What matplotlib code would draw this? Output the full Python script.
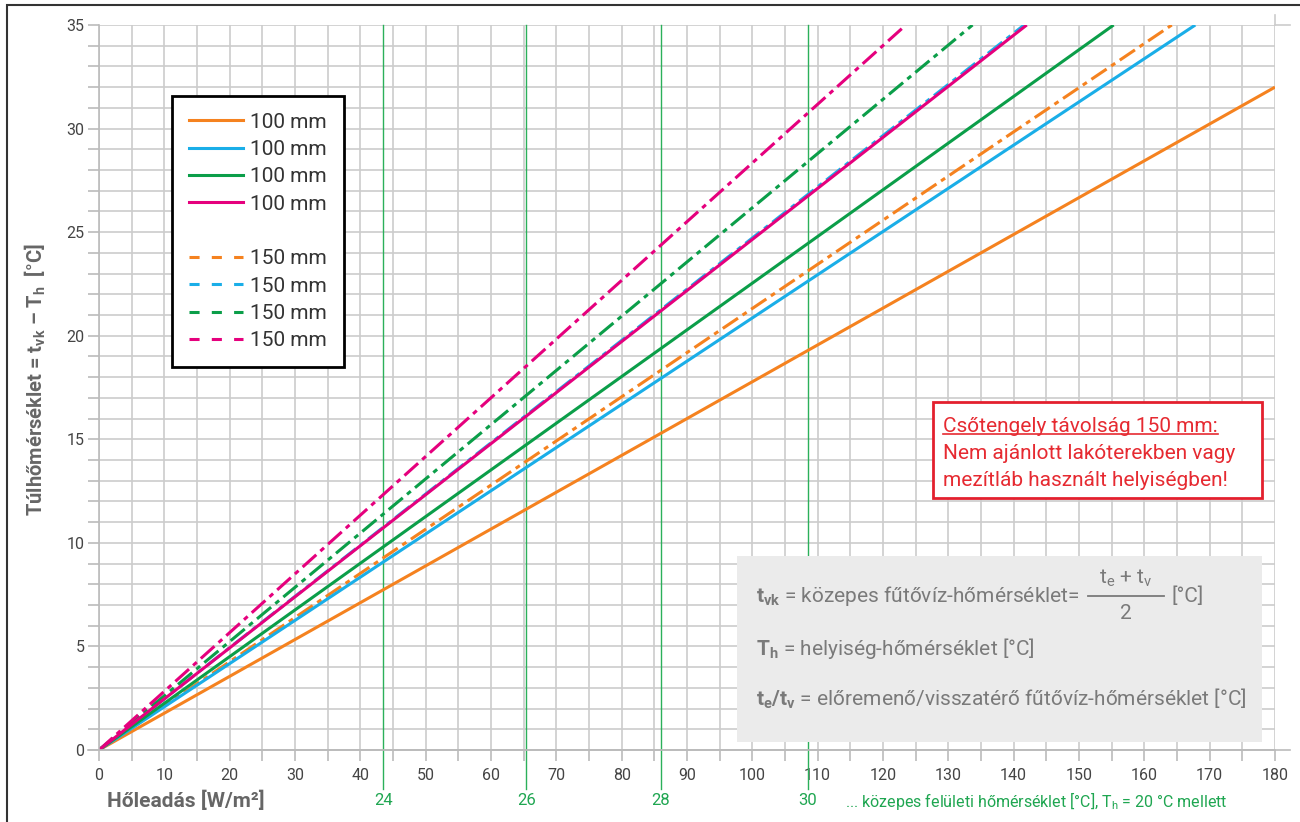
import matplotlib
matplotlib.use("Agg")
import matplotlib.pyplot as plt
from matplotlib.lines import Line2D
from matplotlib.patches import Rectangle

plt.rcParams["font.family"] = ["Roboto", "DejaVu Sans"]
plt.rcParams["mathtext.fontset"] = "custom"
plt.rcParams["mathtext.rm"] = "Roboto"
plt.rcParams["mathtext.bf"] = "Roboto:bold"
plt.rcParams["mathtext.it"] = "Roboto:italic"

# every line starts at the origin, these are the end points
colors = ["#f5821f", "#1aaee8", "#0b9e49", "#e5007d"]
end_x_100 = [180, 167.8, 155.3, 142.0]
end_y_100 = [32.0, 35, 35, 35]
end_x_150 = [164.2, 141.6, 133.7, 123.5]
end_y_150 = [35, 35, 35, 35]
label_100 = "100 mm"
label_150 = "150 mm"

# mean surface temperature markers (x position in W/m2)
surface_x = [43.5, 65.4, 86.0, 108.5]
surface_t = ["24", "26", "28", "30"]

W, H = 1300, 822
fig = plt.figure(figsize=(13, 8.22), dpi=100)
ax = fig.add_axes([99 / W, 1 - 750 / H, 1176 / W, 725 / H])


def px(x, y):
    return x / W, 1 - y / H


grid_c = "#cccccc"
dashdot = (0, (6, 1.8, 1.6, 1.8))

for i in range(4):
    ax.plot([0, end_x_150[i]], [0, end_y_150[i]], color=colors[i], lw=2.2,
            linestyle=dashdot, solid_capstyle="butt", zorder=2)
for i in range(4):
    ax.plot([0, end_x_100[i]], [0, end_y_100[i]], color=colors[i], lw=2.2,
            solid_capstyle="butt", zorder=2.5)

for sx, st in zip(surface_x, surface_t):
    ax.plot([sx, sx], [-1.9, 35], color="#2bb05a", lw=1.0, clip_on=False, zorder=1.5)
    ax.text(sx, -2.46, st, color="#1fa651", fontsize=12, ha="center", va="center")
ax.text(114.2, -2.46, "... közepes felületi hőmérséklet [°C], T$_\\mathrm{h}$ = 20 °C mellett",
        color="#1fa651", fontsize=11.5, ha="left", va="center")

ax.set_xlim(0, 180)
ax.set_ylim(0, 35)
ax.set_xticks(range(0, 181, 10))
ax.set_xticks(range(5, 180, 10), minor=True)
ax.set_yticks(range(0, 36, 5))
ax.set_yticks(range(0, 36, 1), minor=True)
ax.set_axisbelow(True)
ax.grid(True, which="both", color=grid_c, lw=1.2)
ax.tick_params(which="both", direction="out", length=8, width=1.2, color="#bbbbbb",
               labelsize=11.5, labelcolor="#444444")
ax.tick_params(axis="x", pad=5)
ax.tick_params(axis="y", pad=2.5)
for s in ["top", "right"]:
    ax.spines[s].set_visible(False)
for s in ["left", "bottom"]:
    ax.spines[s].set_color("#bbbbbb")
    ax.spines[s].set_linewidth(1.2)
# small overhangs of the frame lines
ax.plot([-1.7, 182.3], [0, 0], color="#bbbbbb", lw=1.2, clip_on=False, zorder=1)
ax.plot([180, 182.3], [35, 35], color=grid_c, lw=1.2, clip_on=False, zorder=1)
ax.plot([180, 180], [35, 35.5], color=grid_c, lw=1.2, clip_on=False, zorder=1)

# legend
handles = [Line2D([], [], color=c, lw=2.2) for c in colors]
handles.append(Line2D([], [], color="none"))
handles += [Line2D([], [], color=c, lw=2.2, linestyle=(0, (3.3, 4))) for c in colors]
labels = [label_100] * 4 + [" "] + [label_150] * 4
leg = ax.legend(handles, labels, loc="upper left", bbox_to_anchor=((172 - 99) / 1176, (750 - 96) / 725),
                borderaxespad=0, fontsize=15, frameon=True, fancybox=False, framealpha=1,
                edgecolor="black", handlelength=2.6, handletextpad=0.35, labelspacing=0.4,
                borderpad=0.8)
leg.get_frame().set_linewidth(2)
for t in leg.get_texts():
    t.set_color("#333333")
leg.set_zorder(10)

# info box
ax.add_patch(Rectangle(((737 - 99) / 1176, (750 - 742) / 725), (1262 - 737) / 1176, (742 - 556) / 725,
                       transform=ax.transAxes, facecolor="#ebebeb", edgecolor="none", zorder=5))
info_c = "#7a7a7a"
fs_info = 15
t1 = fig.text(*px(756, 602), r"$\mathbf{t}_\mathbf{vk}$ = közepes fűtővíz-hőmérséklet=",
              color=info_c, fontsize=fs_info, va="baseline", ha="left", zorder=6)
fig.text(*px(756, 655), r"$\mathbf{T}_\mathbf{h}$ = helyiség-hőmérséklet [°C]",
         color=info_c, fontsize=fs_info, va="baseline", ha="left", zorder=6)
fig.text(*px(756, 706), r"$\mathbf{t}_\mathbf{e}\mathbf{/t}_\mathbf{v}$ = előremenő/visszatérő fűtővíz-hőmérséklet [°C]",
         color=info_c, fontsize=fs_info, va="baseline", ha="left", zorder=6)

# warning box
ax.add_patch(Rectangle(((933 - 99) / 1176, (750 - 498) / 725), (1262 - 933) / 1176, (498 - 402) / 725,
                       transform=ax.transAxes, facecolor="white", edgecolor="#e3202e", lw=2, zorder=5))
red = "#e62a31"
r1 = fig.text(*px(943, 432), "Csőtengely távolság 150 mm:", color=red, fontsize=15, va="baseline", zorder=6)
fig.text(*px(943, 459), "Nem ajánlott lakóterekben vagy", color=red, fontsize=15, va="baseline", zorder=6)
fig.text(*px(943, 486), "mezítláb használt helyiségben!", color=red, fontsize=15, va="baseline", zorder=6)

# axis titles
fig.text(*px(35, 380), "Túlhőmérséklet = t$_\\mathbf{vk}$ – T$_\\mathbf{h}$  [°C]", rotation=90,
         color="#666666", fontsize=14.5, fontweight="bold", ha="center", va="center")
fig.text(*px(107, 801), "Hőleadás [W/m²]", color="#666666", fontsize=15, fontweight="bold",
         ha="left", va="center")

# outer frame
fig.patches.append(Rectangle((7 / W, -0.1), 1.1, 1 - 5 / H + 0.1, transform=fig.transFigure,
                             fill=False, edgecolor="#333333", lw=1.5))

# fraction and underline placed from measured text
fig.canvas.draw()
inv = fig.transFigure.inverted()
bb = t1.get_window_extent()
x0 = bb.x1 + 8
x1 = x0 + 76
yb = H - 596
(fx0, fy), (fx1, _) = inv.transform([(x0, yb), (x1, yb)])
fig.add_artist(Line2D([fx0, fx1], [fy, fy], color=info_c, lw=1.3, zorder=6))
cx = inv.transform([((x0 + x1) / 2, 0)])[0][0]
fig.text(cx, 1 - 584 / H, "t$_\\mathrm{e}$ + t$_\\mathrm{v}$", color=info_c, fontsize=fs_info,
         ha="center", va="baseline", zorder=6)
fig.text(cx, 1 - 619 / H, "2", color=info_c, fontsize=fs_info, ha="center", va="baseline", zorder=6)
fig.text(inv.transform([(x1 + 8, 0)])[0][0], 1 - 602 / H, "[°C]", color=info_c, fontsize=fs_info,
         ha="left", va="baseline", zorder=6)

rb = r1.get_window_extent()
(ux0, uy), (ux1, _) = inv.transform([(rb.x0, H - 434), (rb.x1, H - 434)])
fig.add_artist(Line2D([ux0, ux1], [uy, uy], color=red, lw=1.2, zorder=6))

fig.savefig("out.png", dpi=100)
